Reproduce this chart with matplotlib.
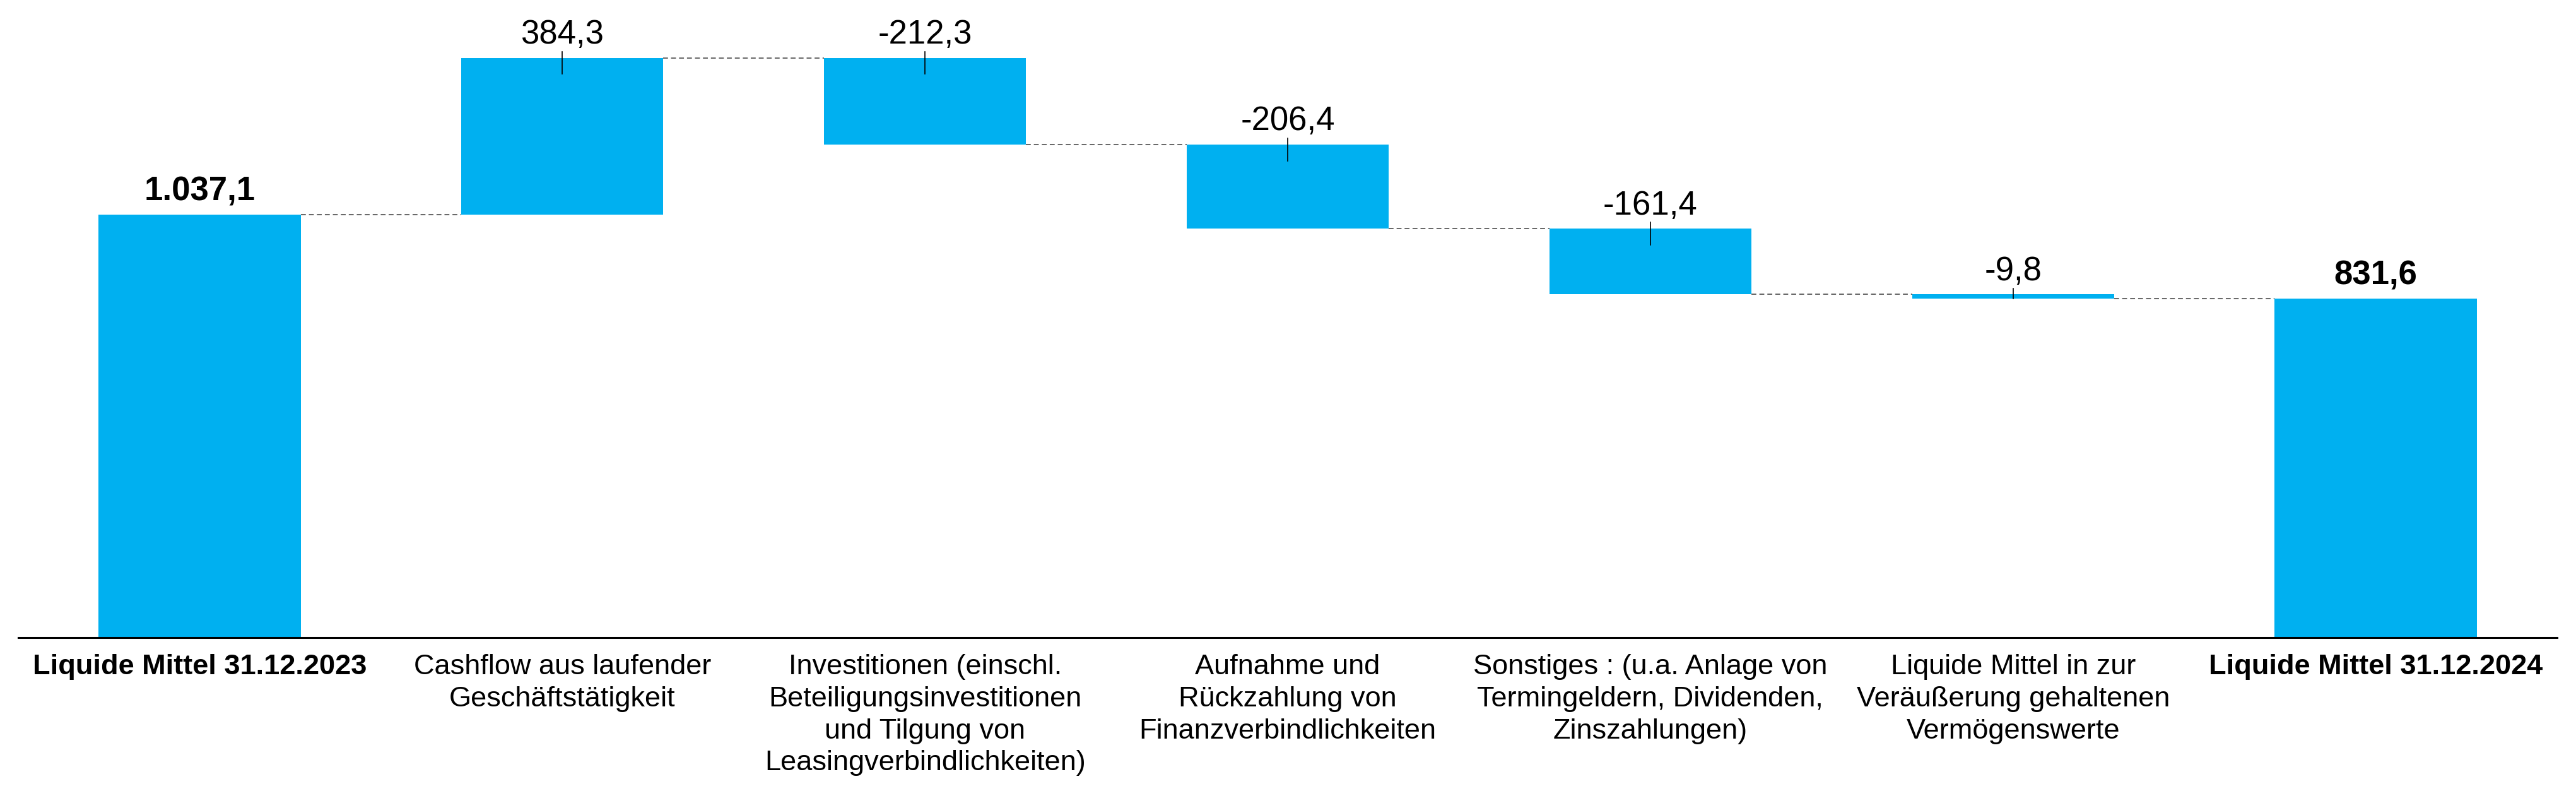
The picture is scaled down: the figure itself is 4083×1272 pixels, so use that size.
import numpy as np
import matplotlib
matplotlib.use("Agg")
import matplotlib.pyplot as plt

plt.rcParams['font.family'] = ['Liberation Sans', 'DejaVu Sans']

# Kategorien und Werte (Mio. EUR)
kategorien = ["Liquide Mittel 31.12.2023",
              "Cashflow aus laufender\nGeschäftstätigkeit",
              "Investitionen (einschl.\nBeteiligungsinvestitionen\nund Tilgung von\nLeasingverbindlichkeiten)",
              "Aufnahme und\nRückzahlung von\nFinanzverbindlichkeiten",
              "Sonstiges : (u.a. Anlage von\nTermingeldern, Dividenden,\nZinszahlungen)",
              "Liquide Mittel in zur\nVeräußerung gehaltenen\nVermögenswerte",
              "Liquide Mittel 31.12.2024"]
werte = [1037.1, 384.3, -212.3, -206.4, -161.4, -9.8, 831.6]
summe = [True, False, False, False, False, False, True]
beschriftung = ["1.037,1", "384,3", "-212,3", "-206,4", "-161,4", "-9,8", "831,6"]

farbe = "#00B0F0"
breite = 0.557

# Start und Ende jeder Saeule berechnen
unten = []
oben = []
stand = 0.0
for w, s in zip(werte, summe):
    if s:
        unten.append(0.0)
        oben.append(w)
        stand = w
    else:
        neu = stand + w
        unten.append(min(stand, neu))
        oben.append(max(stand, neu))
        stand = neu

x = np.arange(len(werte))

fig = plt.figure(figsize=(40.83, 12.72), dpi=100)
ax = fig.add_axes([29 / 4083, 262 / 1272, 4024 / 4083, 1010 / 1272])

hoehe = np.array(oben) - np.array(unten)
ax.bar(x, hoehe, bottom=unten, width=breite, color=farbe, zorder=2)

# Verbindungslinien zwischen den Saeulen
for i in range(len(werte) - 1):
    if summe[i] or werte[i] >= 0:
        niveau = oben[i]
    else:
        niveau = unten[i]
    ax.plot([x[i] + breite / 2, x[i + 1] - breite / 2], [niveau, niveau],
            color="#666666", lw=1.4, ls=(0, (4, 2.5)), zorder=1)

# Werte ueber den Saeulen, kleine Striche bei Veraenderungen
for i in range(len(werte)):
    if not summe[i]:
        ax.plot([x[i], x[i]], [oben[i] + 15, max(oben[i] - 40, unten[i])],
                color="black", lw=1.2, zorder=3)
    ax.annotate(beschriftung[i], (x[i], oben[i]), xytext=(0, 16),
                textcoords="offset points", ha="center", va="baseline",
                fontsize=38, fontweight="bold" if summe[i] else "normal")

ax.set_xlim(-0.5, 6.5)
ax.set_ylim(0, 1563)
ax.set_yticks([])
for s in ["top", "right", "left"]:
    ax.spines[s].set_visible(False)
ax.spines["bottom"].set_linewidth(2.2)
ax.spines["bottom"].set_zorder(4)

ax.set_xticks(x)
ax.set_xticklabels(kategorien, fontsize=32.5, linespacing=1.3, va="top")
ax.tick_params(axis="x", length=0, pad=19)
for lbl, s in zip(ax.get_xticklabels(), summe):
    if s:
        lbl.set_fontweight("bold")

fig.savefig("out.png", dpi=100)
